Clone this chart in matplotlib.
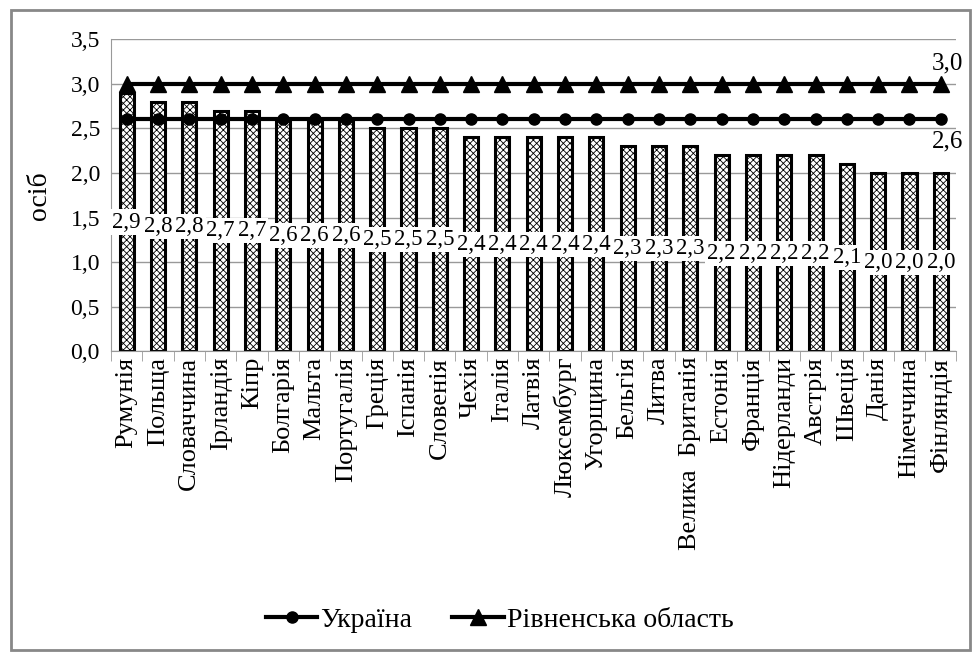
import matplotlib.pyplot as plt
import numpy as np
from matplotlib.patches import Rectangle

FONT = 'Liberation Serif'
plt.rcParams['font.family'] = FONT
plt.rcParams['hatch.linewidth'] = 0.6

countries = ["Румунія", "Польща", "Словаччина", "Ірландія", "Кіпр", "Болгарія", "Мальта",
             "Португалія", "Греція", "Іспанія", "Словенія", "Чехія", "Італія", "Латвія",
             "Люксембург", "Угорщина", "Бельгія", "Литва", "Велика  Британія", "Естонія",
             "Франція", "Нідерланди", "Австрія", "Швеція", "Данія", "Німеччина", "Фінляндія"]
values = [2.9, 2.8, 2.8, 2.7, 2.7, 2.6, 2.6, 2.6, 2.5, 2.5, 2.5, 2.4, 2.4, 2.4,
          2.4, 2.4, 2.3, 2.3, 2.3, 2.2, 2.2, 2.2, 2.2, 2.1, 2.0, 2.0, 2.0]
ukraine = [2.6] * len(countries)
rivne = [3.0] * len(countries)

fig = plt.figure(figsize=(9.74, 6.53), dpi=100)
fig.patches.append(Rectangle((0.011, 0.005), 0.985, 0.98, transform=fig.transFigure,
                             fill=False, edgecolor='#888888', linewidth=2))
ax = fig.add_axes([0.114, 0.462, 0.868, 0.478])

x = np.arange(len(countries))
bars = ax.bar(x, values, width=0.45, color='white', edgecolor='black', linewidth=2.2,
              hatch='xxxxx', zorder=2)

for xi, v in zip(x, values):
    ax.text(xi, v / 2, f"{v:.1f}".replace('.', ','), ha='center', va='center', fontsize=16.5,
            bbox=dict(facecolor='white', edgecolor='none', pad=1.5), zorder=4)

ax.plot(x, ukraine, color='black', linewidth=3, marker='o', markersize=8, zorder=3, label='Україна')
ax.plot(x, rivne, color='black', linewidth=3, marker='^', markersize=11, zorder=3,
        label='Рівненська область')

ax.text(x[-1] + 0.2, rivne[-1] + 0.1, "3,0", ha='center', va='bottom', fontsize=18)
ax.text(x[-1] + 0.2, ukraine[-1] - 0.12, "2,6", ha='center', va='top', fontsize=18)

ax.set_xlim(-0.5, len(countries) - 0.5)
ax.set_ylim(0, 3.5)
ax.set_yticks(np.arange(0, 3.51, 0.5))
ax.set_yticklabels([f"{t:.1f}".replace('.', ',') for t in np.arange(0, 3.51, 0.5)], fontsize=17)
ax.set_xticks(x)
ax.set_xticklabels(countries, rotation=90, fontsize=19)
ax.set_xticks(np.arange(-0.5, len(countries), 1), minor=True)
ax.tick_params(axis='x', which='major', length=0, pad=4)
ax.tick_params(axis='x', which='minor', length=7, color='#999999')
ax.tick_params(axis='y', length=0, pad=8)
ax.set_ylabel("осіб", fontsize=20, labelpad=13)
ax.grid(axis='y', color='#999999', linewidth=1, zorder=0)
for s in ['top', 'right']:
    ax.spines[s].set_visible(False)
ax.spines['left'].set_color('#999999')
ax.spines['bottom'].set_color('#999999')

fig.legend(loc='center', bbox_to_anchor=(0.513, 0.05), ncol=2, frameon=False,
           fontsize=20, handlelength=1.85, handletextpad=0.1, columnspacing=1.45)

fig.savefig("out.png", dpi=100)
